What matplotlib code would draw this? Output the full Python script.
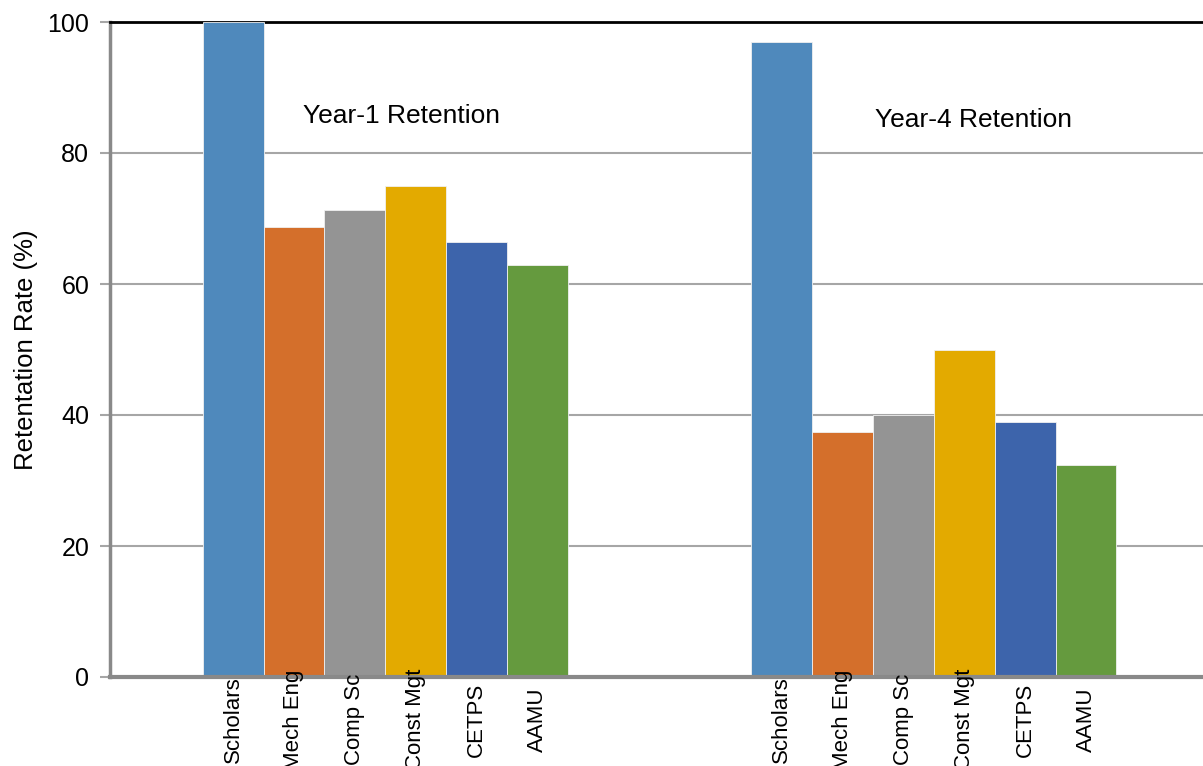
import matplotlib
matplotlib.use("Agg")
import matplotlib.pyplot as plt
import numpy as np

plt.rcParams['font.family'] = ['Liberation Sans', 'DejaVu Sans']

categories = ["Scholars", "Mech Eng", "Comp Sc", "Const Mgt", "CETPS", "AAMU"]
groups = ["Year-1 Retention", "Year-4 Retention"]
year1 = [100.0, 68.7, 71.3, 75.0, 66.4, 62.9]
year4 = [96.9, 37.4, 40.0, 49.9, 38.9, 32.4]
colors = ["#4F89BC", "#D46F2B", "#949494", "#E3AA00", "#3D64AB", "#659A3E"]
yticks = [0, 20, 40, 60, 80, 100]

fig = plt.figure(figsize=(12.03, 7.66), dpi=100)
ax = fig.add_axes([110/1203, 1-677/766, 1-110/1203, (677-22)/766])

group_offsets = [0, 9]
xs_all, labels_all = [], []
for off, vals in zip(group_offsets, [year1, year4]):
    xs = np.arange(len(categories)) + off
    ax.bar(xs, vals, width=1.0, color=colors, edgecolor="#F0F0F0", linewidth=0.6, zorder=3)
    xs_all.extend(xs)
    labels_all.extend(categories)

ax.set_xlim(-2.02, 15.92)
ax.set_ylim(0, 100)
ax.set_yticks(yticks)
ax.set_yticklabels([str(t) for t in yticks], fontsize=18)
ax.set_xticks(xs_all)
ax.set_xticklabels(labels_all, rotation=90, fontsize=16, va="center")
for lbl in ax.get_xticklabels():
    lbl.set_y(-0.065)
ax.tick_params(axis="x", length=0, pad=0)
ax.tick_params(axis="y", length=7, width=1.5, color="#A6A6A6", pad=8)

ax.grid(axis="y", color="#A6A6A6", linewidth=1.5, zorder=0)
ax.set_axisbelow(True)
ax.xaxis.set_zorder(5)
ax.spines["right"].set_visible(False)
ax.spines["top"].set_color("#000000")
ax.spines["top"].set_linewidth(2)
ax.spines["left"].set_color("#898989")
ax.spines["left"].set_linewidth(2.5)
ax.spines["bottom"].set_color("#898989")
ax.spines["bottom"].set_linewidth(3)
ax.spines["bottom"].set_zorder(4)

ax.set_ylabel("Retentation Rate (%)", fontsize=18.5, labelpad=7)

ax.text(2.77, 85.6, groups[0], fontsize=19, ha="center", va="center")
ax.text(12.16, 85.1, groups[1], fontsize=19, ha="center", va="center")

fig.savefig("out.png", dpi=100)
